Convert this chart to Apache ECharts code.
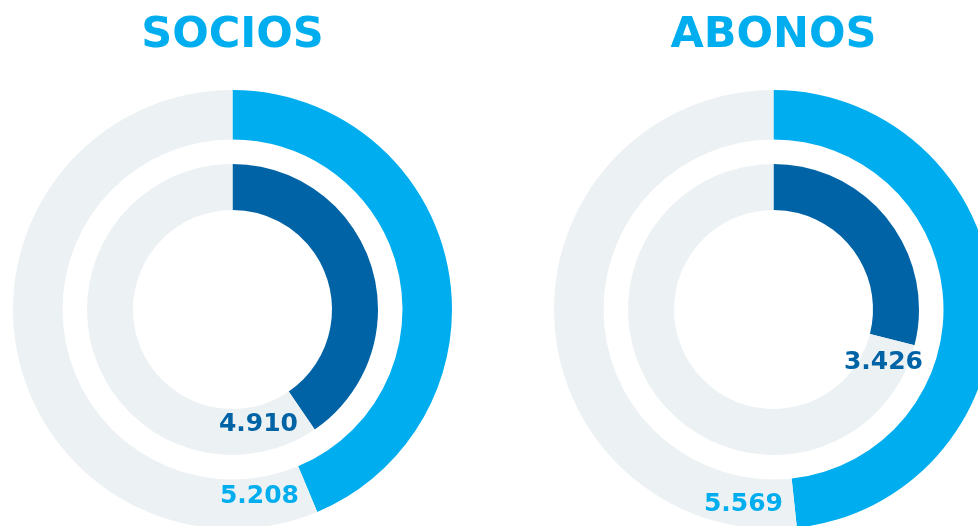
<!DOCTYPE html>
<html>
<head>
<meta charset="utf-8">
<style>
  html, body { margin: 0; padding: 0; background: #fff; }
  #main { width: 978px; height: 526px; }
</style>
</head>
<body>
<div id="main"></div>
<script src="https://cdn.jsdelivr.net/npm/echarts@6/dist/echarts.min.js"></script>
<script>
// datos
var categorias = ['SOCIOS', 'ABONOS'];
var valoresExterior = [5208, 5569];
var valoresInterior = [4910, 3426];
// capacidad de cada anillo (lo que completa la vuelta)
var totalesExterior = [11920, 11530];
var totalesInterior = [12140, 11830];

var centros = [[232.5, 309.5], [773.5, 309.5]];
var colorClaro = '#00AEEF';
var colorOscuro = '#0063A6';
var colorFondo = '#ECF1F4';

// posiciones de las etiquetas (derecha, centro)
var posExterior = [[299, 496], [783, 504]];
var posInterior = [[298, 424], [923, 362]];

function fmt(v) {
  return String(v).replace(/\B(?=(\d{3})+(?!\d))/g, '.');
}

function anillo(i, valor, total, radio, color) {
  return {
    type: 'pie',
    center: centros[i],
    radius: radio,
    startAngle: 90,
    clockwise: true,
    silent: true,
    animation: false,
    label: { show: false },
    labelLine: { show: false },
    data: [
      { value: valor, itemStyle: { color: color } },
      { value: total - valor, itemStyle: { color: colorFondo } }
    ]
  };
}

function texto(x, y, t, color, size) {
  return {
    type: 'text', x: x, y: y, z: 100,
    style: { text: t, fill: color, font: 'bold ' + size + 'px "DejaVu Sans"', textAlign: 'center', textVerticalAlign: 'middle' }
  };
}

var series = [];
var textos = [];
categorias.forEach(function (cat, i) {
  series.push(anillo(i, valoresExterior[i], totalesExterior[i], [170, 219.5], colorClaro));
  series.push(anillo(i, valoresInterior[i], totalesInterior[i], [99.5, 145.5], colorOscuro));
  textos.push(texto(centros[i][0], 36, cat, colorClaro, 43));
  var e = texto(posExterior[i][0], posExterior[i][1], fmt(valoresExterior[i]), colorClaro, 25);
  e.style.textAlign = 'right';
  textos.push(e);
  var n = texto(posInterior[i][0], posInterior[i][1], fmt(valoresInterior[i]), colorOscuro, 25);
  n.style.textAlign = 'right';
  textos.push(n);
});

var chart = echarts.init(document.getElementById('main'));
chart.setOption({
  animation: false,
  series: series,
  graphic: textos
});
</script>
</body>
</html>
